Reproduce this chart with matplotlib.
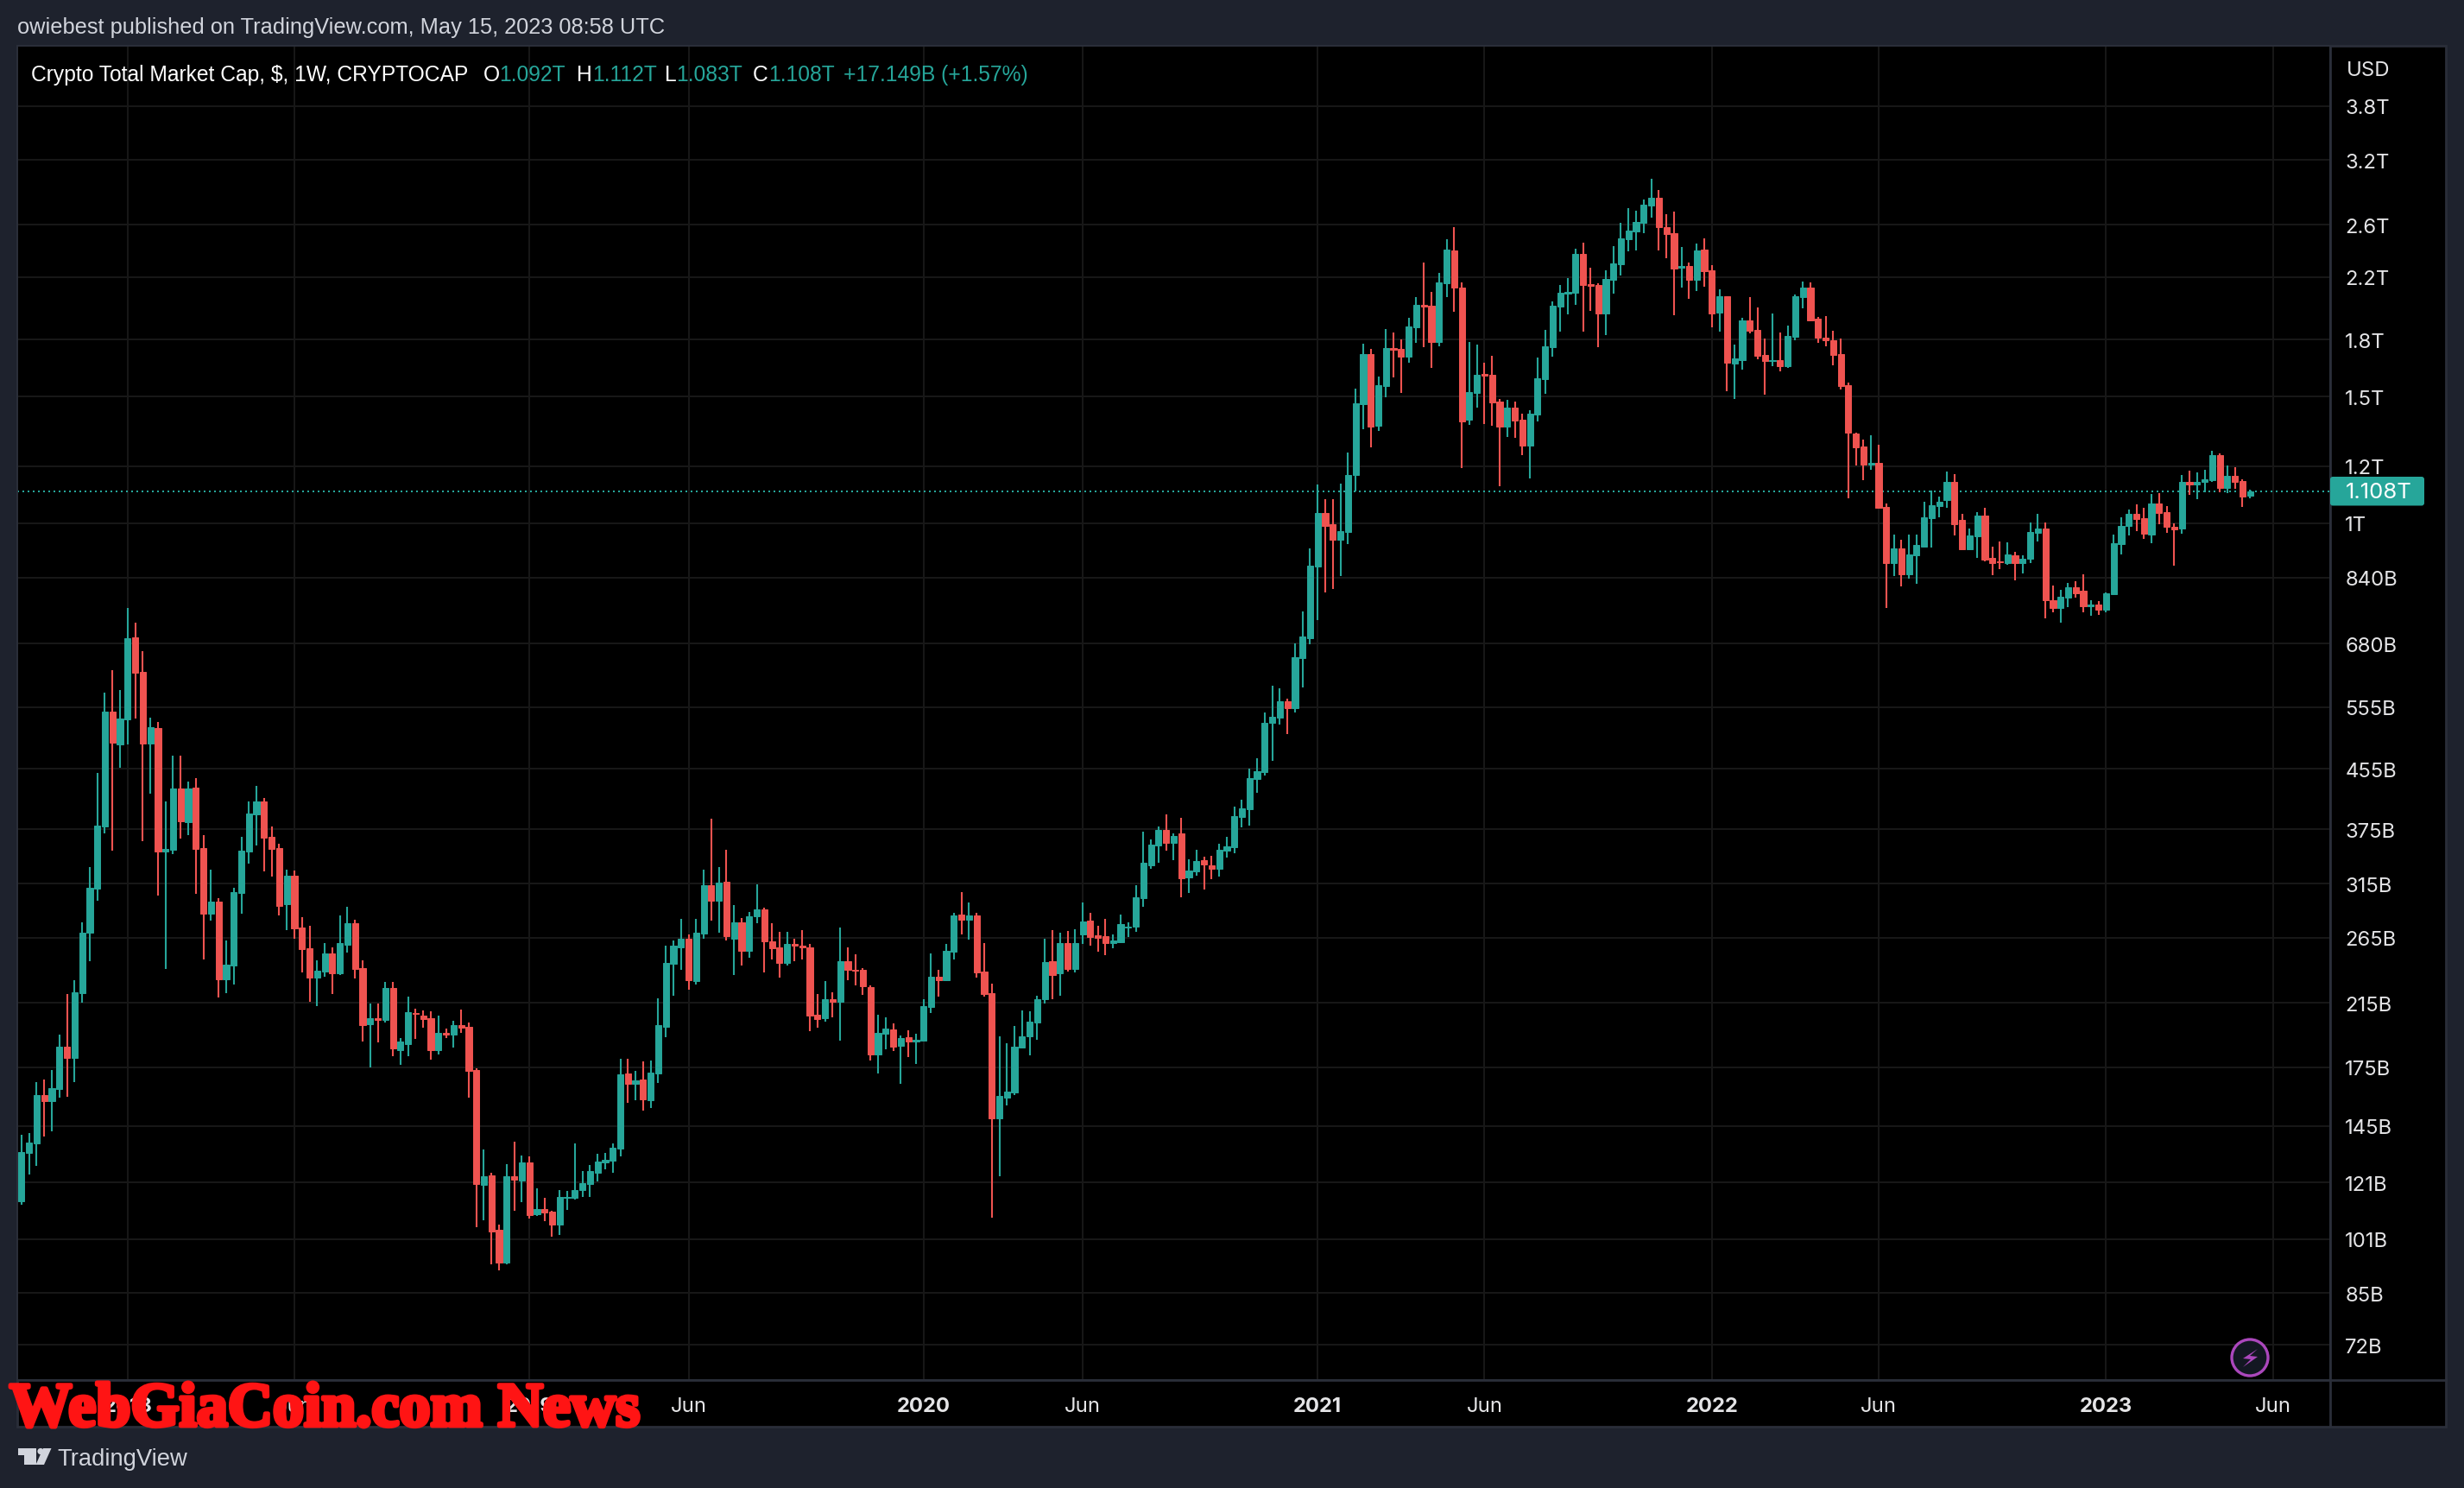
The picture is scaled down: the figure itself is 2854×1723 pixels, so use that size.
import matplotlib
matplotlib.use("Agg")
import matplotlib.pyplot as plt
import matplotlib.patheffects as pe
from matplotlib.patches import Rectangle, Circle, Polygon, FancyBboxPatch
from matplotlib.ticker import NullLocator
import numpy as np

# Weekly candles, values in billions of USD
opens = [
114.1,133.1,137.3,160.2,157.0,163.2,187.0,180.3,221.8,269.2,
310.2,378.2,546.7,492.1,533.5,693.4,621.1,493.5,518.4,349.3,
351.3,427.7,383.7,428.3,353.3,286.1,297.5,232.0,242.6,305.7,
349.3,393.2,410.2,365.8,353.3,294.9,323.1,273.9,256.3,233.3,
237.8,251.9,236.4,258.9,277.5,240.5,201.0,204.8,203.6,225.7,
184.8,188.6,208.1,206.6,204.8,184.8,195.2,194.6,200.4,199.3,
173.4,120.1,123.8,103.9,93.6,123.4,
121.8,129,109.3,111.1,110.2,105.7,115.1,115.1,118.1,120.4,
124.8,129,129.8,134.8,171.7,166,168.3,157.6,171.7,199.4,
243.5,257.3,264.4,230.9,268.4,313.3,298.1,316.7,264.4,278.8,
254.5,283.6,290.6,262,256.7,244.3,259.5,258.6,257.3,207.2,
205,217.4,215.6,246.1,239.4,238.9,226.4,182.4,194.9,197.4,
187.5,192.8,190.1,190.7,212.5,234.1,231.6,253.1,285.3,280.6,
284.5,237.6,221.8,148.5,158.9,161.3,186.3,193.1,201.9,217.7,
245.6,236.4,260.9,240,267.7,279.9,267,266.3,260.3,261.5,
273.5,274.7,300.5,334.6,356,373.9,359,370.1,321.4,327.6,
339.5,334.6,330.4,350.1,354.1,389.9,400,440.6,450.1,526.9,
536.4,565.1,552.3,649,692,870.6,1031.5,995,948.5,973.1,
1166,1462,1718,1365,1550,1751,1745,1703,1872,2012,
2005,1785,2155,2394,2125,1391,1516,1610,1607,1475,
1361,1447,1391,1283,1415,1585,1754,1999,2085,2090,
2368,2148,2143,1955,2178,2292,2481,2546,2617,2765,
2837,2581,2530,2265,2277,2178,2401,2246,1963,2065,
1665,1683,1914,1856,1713,1678,1683,1654,1817,2063,
2127,1922,1812,1796,1718,1556,1333,1278,1207,1213,
1053,879.5,921.9,849,902.2,927.8,1015,1056,1076,1141,
1010,919.6,959,1024,894,885.6,880.7,903,880.7,892.5,
968,982,781.5,762,788,814,805,766.7,770.6,758,
796.6,934.7,991,1030,1015,963.9,1065,1036,988,982,
1141,1131,1140,1147,1243,1120,1164,1144,1092,
]
highs = [
141.0,141.8,166.8,168.2,173.4,194.4,221.1,231.3,278.3,332.5,
449.3,581.1,624.8,586.2,761.6,727.2,663.9,535.9,529,410.2,
474.6,474.6,437.1,441.5,367.9,329.7,300.9,262.6,311.1,365.8,
410.2,430.8,414.9,378.2,358,329.7,328.7,283.2,275.5,246.5,
260.4,257,284.4,292.7,280.7,246.5,214.5,214.5,230,230,
192.2,219.6,211.1,210,209.4,206.6,198.1,203,210.5,201.9,
174.7,134.4,124.9,105.8,128.3,137.8,
131.9,131.6,118.7,115.1,110.5,118,117.8,137,125.5,128,
132.7,133,137.1,179.9,179.9,173,178.4,178.9,218.5,258.6,
263,281.2,268.1,281.8,330,387.7,332.1,351.7,294.6,282.7,
288.1,314.2,292.2,277.4,269.8,270.4,264.4,271.8,259.5,221.6,
230.9,222.8,273.5,257.3,251.3,240.6,227.7,207.2,205.4,201.5,
193.9,197,194.9,217.8,251.8,239.4,259.5,286.7,306.7,296.4,
286.7,260.9,228.7,193.1,189,199.6,209.8,209.4,220.4,263.9,
271.4,269,270.8,272.2,296.4,286.7,275.3,281.3,267.7,285.3,
278.1,313.4,372,363.3,378.2,393.9,370.1,388.9,340.4,351,
343.4,344.3,358.1,366,403,412.4,455.4,470.6,545.4,593.8,
589,569.4,680.2,753,922.7,1130,1080,1078,1133,1255,
1537,1775,1745,1599,1860,1841,1800,1928,2061,2304,
2096,2227,2479,2581,2159,1785,1769,1669,1707,1487,
1483,1475,1418,1435,1698,1856,2033,2143,2191,2406,
2455,2265,2155,2246,2427,2617,2742,2719,2818,3013,
2907,2690,2713,2421,2304,2447,2490,2285,2115,2069,
1769,1928,2061,1996,1806,1955,1841,1883,2077,2168,
2163,1936,1941,1852,1805,1568,1336,1307,1325,1286,
1065,964.9,948,963.9,963.9,1071,1109,1089,1180,1171,
1030,983,1036,1051,927.8,943,941,911.4,903,1002,
1030,1002,819,808,825,830.7,849,781.5,778,800.7,
963.9,1019,1043,1061,1051,1097,1101,1056,998,1166,
1183,1177,1186,1260,1250,1202,1196,1150,1112,
]
lows = [
112.7,124.1,127.6,140.2,142.4,158.8,159.2,166.8,215.1,245.8,
298.3,370,350.3,456.5,492.1,534.3,361.1,420.4,303.1,239.8,
346.3,364.2,367.9,304.9,247.2,279.9,218.9,221.8,228,286.1,
335.9,355.8,327.8,322.6,284.4,271.5,264.2,237.1,215.8,213,
234,221.1,235.4,252.6,232.6,190,175,189.4,201.9,181.4,
176.5,181.4,191.6,198.7,179.5,182.4,192.2,186.3,195.2,158.8,
104.9,107.2,93.1,91.3,93.1,110.5,
113.6,107.8,108.6,106.9,101.7,102.3,110.9,114.5,115.5,115.5,
121.4,126.3,124.8,131.6,156.3,157.6,152.5,153.6,166.5,192.8,
220.4,238.9,224.6,228.4,263.9,280.3,269,263,234.9,242.2,
248.8,277.4,237.3,246.9,233,242.7,246.1,246.9,196.7,198.5,
202.6,205.4,190.7,231.6,227.3,221,178.9,171.7,185.5,184.6,
166,181,177,190.4,208,219.8,230.4,247.1,267.7,263.3,
233.1,219.4,108.1,123.6,155,160.1,186.2,181.8,190.9,214.6,
217.7,220,237.6,237,259.6,258.3,253.1,251,256,260.9,
265.3,269.8,292.8,330.4,337,349.9,339.5,301.9,305.5,323,
309,319.4,322.2,342.5,347.5,377.2,379.2,421.4,445.6,467,
524,508.5,545.4,590.8,677.6,732.9,801.3,809.8,844.9,935.5,
1106,1349,1276,1344,1495,1593,1516,1669,1781,1754,
1643,1759,2061,1969,1194,1368,1447,1372,1365,1125,
1316,1312,1244,1155,1384,1511,1703,1846,1951,2012,
1846,1971,1754,1825,2085,2208,2389,2394,2530,2659,
2394,2336,1945,2125,2050,2100,2129,1872,1846,1524,
1487,1634,1835,1690,1508,1654,1624,1643,1794,1991,
1910,1783,1762,1658,1534,1083,1202,1147,1186,1046,
762,844.6,816.1,837,823.4,927,924,1019,1051,961.4,
919,917,894,885.6,847,862,875.8,833,851,879.5,
943,737,752,726,763.9,788,752,743,745.7,751,
796,904.5,961.4,974,950,937,996,968,872.9,966,
1094,1079,1103,1141,1103,1100,1117,1053,1083,
]
closes = [
133.5,137.6,160.2,157.0,163.7,187.0,180.3,222.3,269.2,311.1,
379.3,546.7,494.9,534.3,691.3,619.3,493.5,519.9,349.3,352.3,
427.7,384.8,427.7,352.3,286.1,297.5,232.0,243.0,306.6,350.3,
394.4,410.2,365.3,352.3,293.2,323.1,273.1,255.6,233.3,238.5,
251.9,236.4,260.4,277.5,239.8,200.4,204.8,203.6,225.7,185.9,
190,208.7,207.5,204.2,184.8,195.2,194.6,200.4,198.7,172.9,
120.4,123.4,103.5,93.6,123.4,122,
129,109,111.1,109.9,105.7,115.5,115.7,118.2,120.8,125.5,
129.4,130.1,135.2,171.2,166,167.9,157.9,172.1,200.5,244.3,
258.2,264.4,231.6,269,313.3,298.1,316,266.2,278.8,253.8,
283.6,290.6,261.7,256,244.3,259.5,258.3,256.7,206.7,204.3,
217.4,215.6,245.6,238.9,238.4,226.6,182.4,195.5,198,187.1,
192.3,190.1,190.9,212.9,234.1,231.6,253.8,284.5,280.6,284.5,
237,221.3,148.5,159.7,161.9,186.8,193.4,202.4,217.7,245,
235.2,260.3,240,260.9,279.1,265.3,264.7,260.3,262.6,276.7,
274.7,301.9,337,356.7,373.9,359,366.9,320.2,328.5,338.6,
335,330.4,351,355,390.9,400.9,441.7,451.9,526.9,537.7,
565.1,552.3,650.6,695.1,873.3,1031.5,991.8,948.5,975.1,1167,
1467,1718,1361,1555,1751,1742,1703,1876,2012,1999,
1785,2159,2401,2125,1384,1521,1607,1603,1470,1361,
1447,1387,1281,1418,1588,1759,2005,2090,2096,2368,
2143,2137,1955,2185,2297,2489,2551,2622,2774,2837,
2581,2524,2258,2277,2178,2394,2239,1955,2069,1669,
1694,1914,1851,1707,1678,1683,1654,1819,2069,2127,
1914,1812,1794,1713,1552,1335,1275,1207,1213,1051,
879.5,921.9,849,904.5,932.4,1019,1059,1071,1141,996,
919.6,961.4,1024,890,880.7,881,904.5,880.7,892.5,972,
982,781.5,762,790,814,799,766.7,770.6,758,798.6,
937,991,1030,1014,966,1065,1033,988,979,1141,
1131,1141,1150,1243,1120,1164,1141,1089,1108,
]
last_price = 1108
y_tick_values = [3800,3200,2600,2200,1800,1500,1200,1000,840,680,555,455,375,315,265,215,175,145,121,101,85,72]
y_tick_labels = ["3.8T","3.2T","2.6T","2.2T","1.8T","1.5T","1.2T","1T","840B","680B","555B","455B","375B","315B","265B","215B","175B","145B","121B","101B","85B","72B"]
x_tick_weeks = [14,36,67,88,119,140,171,193,223,245,275,297]
x_tick_labels = ["2018","Jun","2019","Jun","2020","Jun","2021","Jun","2022","Jun","2023","Jun"]

UP = "#26a69a"; DOWN = "#ef5350"; BG = "#1e222d"; LINE = "#2a2e39"; GRID = "#171717"
LIGHT = "#d1d4dc"; AXTXT = "#e4e4e6"
W, H = 2854, 1724
L, R, T, B = 20, 2699, 54, 1599
plt.rcParams['font.family'] = ['Inter', 'DejaVu Sans']

fig = plt.figure(figsize=(W/100, H/100), dpi=100, facecolor=BG)

under = fig.add_axes([0,0,1,1], zorder=0)
under.set_xlim(0,W); under.set_ylim(H,0); under.axis("off")
under.add_patch(Rectangle((20,54),2813,1599,facecolor="#000000",edgecolor=LINE,lw=2))
under.plot([20,2833],[1599,1599],color=LINE,lw=2)
under.plot([2699,2699],[54,1653],color=LINE,lw=2)

ax = fig.add_axes([L/W, 1-B/H, (R-L)/W, (B-T)/H], zorder=1, facecolor="#000000")
x = np.arange(len(opens))
o, h, l, c = map(np.array, (opens, highs, lows, closes))
cols = np.where(c >= o, UP, DOWN)
ax.set_yscale("log")
ax.set_xlim((L-24.9)/8.78, (R-24.9)/8.78)
ax.set_ylim(64.3, 4610)
ax.axhline(last_price, color=UP, lw=1.44, ls=(0,(1,2)), zorder=1.5)
ax.vlines(x, l, h, colors=cols, lw=1.5, zorder=2)
ax.bar(x, np.abs(c-o), bottom=np.minimum(o,c), width=0.82, color=cols, linewidth=0.7, edgecolor=cols, zorder=3)

ax.yaxis.tick_right()
ax.set_yticks(y_tick_values, y_tick_labels, fontsize=17.2, color=AXTXT)
ax.yaxis.set_minor_locator(NullLocator())
ax.set_xticks(x_tick_weeks, x_tick_labels, fontsize=17.2, color=AXTXT)
for t, s in zip(ax.get_xticklabels(), x_tick_labels):
    if s != "Jun":
        t.set_fontweight("bold")
ax.tick_params(axis="both", length=0)
ax.tick_params(axis="y", pad=12.5)
ax.tick_params(axis="x", pad=14)
ax.grid(True, color=GRID, lw=1.44)
ax.set_axisbelow(True)
for s in ax.spines.values():
    s.set_color(LINE); s.set_linewidth(1.44)

top = fig.add_axes([0,0,1,1], zorder=2)
top.set_xlim(0,W); top.set_ylim(H,0); top.axis("off"); top.patch.set_alpha(0)

top.text(20, 32, "owiebest published on TradingView.com, May 15, 2023 08:58 UTC",
         color=LIGHT, fontsize=18.3, family="Liberation Sans", va="center")
legend_items = [(36,"Crypto Total Market Cap, $, 1W, CRYPTOCAP","#ffffff"),(560,"O","#ffffff"),(578,"1.092T",UP),
                (667.5,"H","#ffffff"),(686.5,"1.112T",UP),(769.5,"L","#ffffff"),(783.5,"1.083T",UP),
                (872,"C","#ffffff"),(890,"1.108T",UP),(977,"+17.149B (+1.57%)",UP)]
for px, s, col in legend_items:
    top.text(px, 87, s, color=col, fontsize=17.7, family="Liberation Sans", va="center")

top.text(2718, 82, "USD", color=AXTXT, fontsize=17.2, va="center")
top.add_patch(FancyBboxPatch((2699,553),109,33.5,boxstyle="round,pad=0,rounding_size=3",facecolor=UP,edgecolor="none"))
top.text(2717, 571, "1.108T", color="#ffffff", fontsize=18.5, va="center")

# lightning badge
top.add_patch(Circle((2606,1573),21,facecolor="#131722",edgecolor="#ab47bc",lw=2.4))
top.add_patch(Polygon([(2606+a,1573+b) for a,b in [(9,-10),(-8,1),(1,2),(-8,11),(9,-1),(0,-2)]],closed=True,facecolor="#ab47bc",edgecolor="none"))

# TradingView logo + text
top.add_patch(Polygon([(20.5,1678),(41.5,1678),(41.5,1697),(28,1697),(28,1686),(20.5,1686)],closed=True,facecolor=LIGHT,edgecolor="none"))
top.add_patch(Circle((47,1681.5),3.6,facecolor=LIGHT,edgecolor="none"))
top.add_patch(Polygon([(50,1678),(59.5,1678),(51,1697),(41.5,1697)],closed=True,facecolor=LIGHT,edgecolor="none"))
top.text(66, 1690, "TradingView", color=LIGHT, fontsize=19.7, family="Liberation Sans", va="center")

# watermark
wm = top.text(11, 1652, "WebGiaCoin.com News", color="#ff1414", fontsize=52, family="Liberation Serif",
         fontweight="bold", va="baseline")
wm.set_path_effects([pe.withStroke(linewidth=3.5, foreground="#ff1414")])

fig.savefig("out.png", dpi=100, facecolor=BG)
